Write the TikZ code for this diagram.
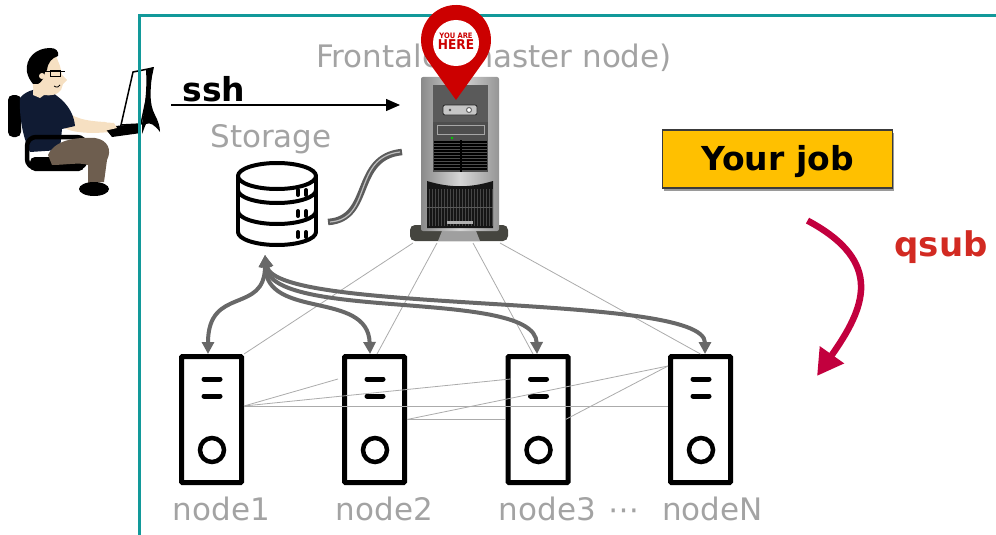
\documentclass[tikz,border=0pt]{standalone}
\usepackage{fontspec}
\setmainfont{DejaVu Sans}
\newfontfamily\pinfont{DejaVu Sans Condensed}
\usetikzlibrary{arrows.meta,calc,shadows}
\definecolor{frameteal}{HTML}{12999A}
\definecolor{lblgray}{HTML}{A3A3A3}
\definecolor{linkgray}{HTML}{686868}
\definecolor{meshgray}{HTML}{ABABAB}
\definecolor{amber}{HTML}{FFC000}
\definecolor{qcrimson}{HTML}{C2003E}
\definecolor{qred}{HTML}{D22A22}
\definecolor{pinred}{HTML}{CC0000}
\definecolor{shirt}{HTML}{101B33}
\definecolor{skin}{HTML}{F6E0C2}
\definecolor{pants}{HTML}{6E5E4F}
\definecolor{cablegray}{HTML}{5C5C5C}
\definecolor{towerbase}{HTML}{45453F}
\definecolor{panel}{HTML}{4E4E4E}
\definecolor{panelhi}{HTML}{5A5A5A}
\definecolor{bodyedge}{HTML}{8A8A8A}
\definecolor{bodymid}{HTML}{D6D6D6}
\definecolor{grille}{HTML}{151515}
\definecolor{jobborder}{HTML}{3A3A3A}
\definecolor{jobshadow}{HTML}{9A9A9A}

\begin{document}
\begin{tikzpicture}[x=1pt,y=-1pt,
  lbl/.style={inner sep=0pt, anchor=base, text=lblgray, font=\fontsize{31}{36}\selectfont},
  srv/.style={draw, line width=5pt, minimum width=60pt, minimum height=126pt, inner sep=0pt, rounded corners=1pt},
  mesh/.style={draw=meshgray, line width=0.8pt},
  link/.style={draw=linkgray, line width=4pt,
    {Triangle[length=12pt,width=12pt]}-{Triangle[length=12pt,width=12pt]}},
  sshline/.style={draw=black, line width=1.2pt, -{Triangle[length=14pt,width=12pt]}},
  cable/.style={draw=cablegray, line width=6.5pt},
  cablehi/.style={draw=white!75!black, line width=1.2pt},
  jobbox/.style={draw=jobborder, line width=1.2pt, fill=amber, minimum width=230pt,
    minimum height=58pt, inner sep=0pt, text height=26pt, text depth=4pt,
    font=\bfseries\fontsize{33}{36}\selectfont,
    drop shadow={shadow xshift=1.5pt, shadow yshift=-3pt, fill=jobshadow, opacity=1}},
  qarrow/.style={draw=qcrimson, line width=6.5pt, -{Triangle[length=26pt,width=28pt]}},
  frame/.style={draw=frameteal, line width=3pt},
  area/.style={inner sep=0pt, outer sep=0pt}
]
\useasboundingbox (0,0) rectangle (996,535);

% ---------- user at the laptop ----------
\node[area, minimum width=155pt, minimum height=150pt] (user) at (82.5,120) {};
% chair back
\fill[black, rounded corners=5pt] (8,95) rectangle (21,137);
% arm
\fill[skin] (63,108) .. controls (72,118) and (85,121) .. (105,122) -- (112,126) -- (112,132)
  -- (95,133) .. controls (80,133) and (70,131) .. (64,128) -- cycle;
% torso
\fill[shirt] (20,98) .. controls (26,90) and (40,86) .. (52,92) -- (62,100)
  .. controls (70,108) and (74,116) .. (75,126) -- (62,129) -- (60,150) -- (30,152)
  .. controls (24,140) and (19,120) .. cycle;
% head
\fill[skin] (34,72) .. controls (36,60) and (46,54) .. (56,56) -- (60,66) -- (62,75) -- (67,80)
  -- (63,84) -- (61,90) .. controls (58,95) and (50,96) .. (44,95) -- (40,98) -- (33,95)
  .. controls (34,88) and (32,80) .. cycle;
\fill[black] (27,72) .. controls (25,58) and (36,48) .. (50,48) .. controls (56,48) and (59,51) .. (58,56)
  .. controls (52,58) and (48,62) .. (47,70) -- (45,72) .. controls (44,78) and (42,82) .. (38,84)
  -- (33,84) .. controls (30,80) and (28,77) .. cycle;
\fill[skin] (42,76) circle (3);
\draw[black, line width=1pt] (44,72) -- (65,72);
\draw[black, line width=1pt] (50,71) rectangle (60,77);
\draw[black, line width=0.8pt] (54,86) .. controls (57,88) and (59,87) .. (60,85);
% armrest and seat
\draw[black, line width=4.5pt, rounded corners=9pt] (27,137) rectangle (86,168);
\fill[black, rounded corners=5pt] (30,157) rectangle (84,171);
% legs and shoe
\fill[pants] (48,155) .. controls (55,140) and (75,137) .. (95,138) .. controls (108,140) and (112,150) .. (107,160)
  -- (104,182) -- (88,183) -- (88,165) .. controls (80,162) and (65,165) .. (52,165) -- cycle;
\fill[black] (94,189) ellipse [x radius=15, y radius=7];
% laptop
\fill[black] (104,127) -- (138,124) -- (141,133) -- (112,137) -- cycle;
\fill[skin] (100,122) -- (114,123) -- (117,128) -- (104,131) -- cycle;
\filldraw[fill=white, draw=black, line width=1.5pt] (121,125) -- (133,72) -- (153,68) -- (141,124) -- cycle;
\fill[black] (146,70) -- (153,67) .. controls (150,90) and (149,104) .. (155,115)
  .. controls (158,121) and (160,126) .. (160,132) .. controls (155,125) and (150,122) .. (146,124)
  .. controls (144,128) and (143,132) .. (142,134) -- (142,124) .. controls (146,100) and (147,85) .. cycle;

% ---------- frame ----------
\draw[frame] (1000,16) -- (139,16) -- (139,540);

% ---------- titles ----------
\node[lbl] (frontale) at (494,67) {Frontale (master node)};
\node[lbl] (storagelbl) at (271,147) {Storage};
\node[inner sep=0pt, anchor=base, font=\bfseries\fontsize{33}{36}\selectfont] (sshlbl) at (214,101) {ssh};

% ---------- compute nodes ----------
\foreach \i/\x in {1/211.5,2/374.5,3/538,4/700.5}{
  \node[srv] (n\i) at (\x,419.5) {};
  \draw[line width=5pt, line cap=round] ($(n\i.center)+(-7.5,-40.5)$) -- ++(16,0);
  \draw[line width=5pt, line cap=round] ($(n\i.center)+(-7.5,-23.5)$) -- ++(16,0);
  \draw[line width=4.5pt] ($(n\i.center)+(0.5,30.5)$) circle (12);
}
\node[lbl] (l1) at (221.5,520) {node1};
\node[lbl] (l2) at (384.5,520) {node2};
\node[lbl] (l3) at (547.5,520) {node3};
\node[lbl] (dots) at (623.5,520) {⋯};
\node[lbl] (l4) at (712.5,520) {nodeN};

% ---------- storage ----------
\node[area, minimum width=82pt, minimum height=90pt] (storage) at (277,205) {};
\begin{scope}[line width=4pt, line join=round, line cap=round]
  \draw (277,176) ellipse [x radius=39, y radius=13];
  \draw (238,176) -- (238,232);
  \draw (316,176) -- (316,232);
  \foreach \yy in {190,211,232}{
    \draw (238,\yy) arc[start angle=180, end angle=0, x radius=39, y radius=13];
    \draw (298,\yy+0) -- (298,\yy+5);
    \draw (306,\yy+0) -- (306,\yy+5);
  }
\end{scope}

% ---------- master node ----------
\node[area, minimum width=98pt, minimum height=166pt] (tower) at (459,160) {};

% interconnect
\draw[mesh] ([xshift=-46pt]tower.south) -- (n1.north east);
\draw[mesh] ([xshift=-22pt]tower.south) -- ([xshift=2.5pt]n2.north);
\draw[mesh] ([xshift=14pt]tower.south) -- ([xshift=-5pt]n3.north);
\draw[mesh] ([xshift=41pt]tower.south) -- (n4.north);
\draw[mesh] ([yshift=13.5pt]n1.east) -- ([xshift=-4pt,yshift=40.5pt]n2.west);
\draw[mesh] ([yshift=13.5pt]n1.east) -- ([xshift=5pt,yshift=40.5pt]n3.west);
\draw[mesh] ([yshift=13.5pt]n1.east) -- ([yshift=13.5pt]n4.west);
\draw[mesh] (n2.east) -- (n3.west);
\draw[mesh] (n2.east) -- ([yshift=53.5pt]n4.west);
\draw[mesh] ([xshift=-5pt]n3.east) -- ([yshift=53.5pt]n4.west);

% tower drawing
\fill[towerbase, rounded corners=5pt] (410,225) rectangle (508,241);
\fill[gray!75] (442,231) -- (476,231) -- (480,241) -- (438,241) -- cycle;
\shade[left color=bodyedge, right color=bodyedge!90!white, middle color=bodymid, rounded corners=2pt]
  (421,77) rectangle (499,231);
\fill[panel] (433,85) rectangle (488,172);
\fill[panelhi] (433,85) rectangle (488,122);
\draw[gray!70, line width=0.8pt] (437,125) rectangle (484,134);
\filldraw[fill=gray!45, draw=black!85, line width=0.8pt, rounded corners=2pt] (443,105) rectangle (477,115);
\fill[black!70] (450,110) circle (1.3);
\filldraw[fill=white, draw=black!60, line width=1pt] (469,110) circle (2.5);
\fill[green!80!black] (452,138) circle (1.3);
\foreach \k in {0,...,9}{
  \draw[black, line width=1.4pt] (434,142+3*\k) -- (487,142+3*\k);
}
\draw[black, line width=1.6pt] (461,140) -- (461,172);
\fill[grille] (427,181) .. controls (450,188) and (470,188) .. (493,181) -- (493,228) -- (427,228) -- cycle;
\foreach \k in {0,...,21}{
  \draw[gray!55!black, line width=0.6pt] (429+3*\k,189) -- (429+3*\k,226);
}
\draw[black!65, line width=0.8pt] (427,207) -- (493,207);
\fill[gray!60] (447,221) rectangle (473,224);

% storage link to master
\draw[cable] ([xshift=10pt,yshift=-17pt]storage.east) .. controls +(45,-3) and +(-50,5) .. ([xshift=-8pt,yshift=8pt]tower.west);
\draw[cablehi] ([xshift=12pt,yshift=-17pt]storage.east) .. controls +(43,-3) and +(-48,5) .. ([xshift=-10pt,yshift=8pt]tower.west);

% ssh
\draw[sshline] ([xshift=11pt,yshift=15pt]user.east) -- ([xshift=-10pt,yshift=55pt]tower.west);

% shared storage links
\draw[link] ([xshift=-12pt,yshift=-5pt]storage.south) .. controls (265,315) and (208,285) .. ([xshift=-3.5pt]n1.north);
\draw[link] ([xshift=-12pt,yshift=-5pt]storage.south) .. controls (266,320) and (368,290) .. ([xshift=-4.5pt]n2.north);
\draw[link] ([xshift=-12pt,yshift=-5pt]storage.south) .. controls (270,322) and (535,288) .. ([xshift=-1pt]n3.north);
\draw[link] ([xshift=-12pt,yshift=-5pt]storage.south) .. controls (275,315) and (705,292) .. ([xshift=4.5pt]n4.north);

% location pin
\fill[pinred] (456,100) -- (484.4,60.4) arc[start angle=35.7, end angle=-215.7, radius=35] -- cycle;
\fill[white] (456,43) circle (23);
\node[inner sep=0pt, align=center, text=pinred, font=\pinfont\bfseries] (here) at (456,41.5)
  {\fontsize{7.5}{8}\selectfont YOU ARE\\[-1pt]\fontsize{13.5}{12}\selectfont HERE};

% job submission
\node[jobbox] (job) at (777.5,159) {Your job};
\coordinate (qend) at (817,376);
\draw[qarrow] ([xshift=30pt,yshift=-32pt]job.south) .. controls (885,262) and (865,308) .. (qend);
\node[inner sep=0pt, anchor=base, text=qred, font=\bfseries\fontsize{34}{38}\selectfont] (qsub) at (941,256) {qsub};

\end{tikzpicture}
\end{document}
